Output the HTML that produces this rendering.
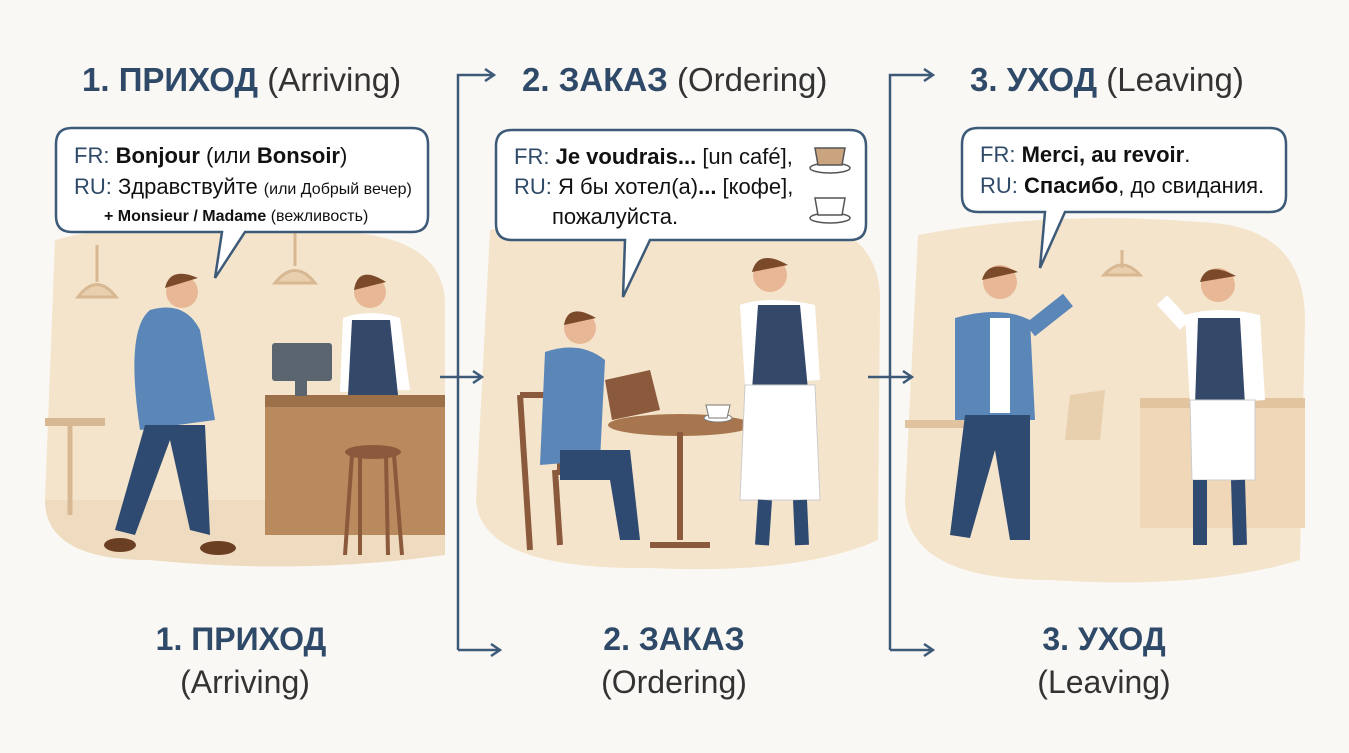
<!DOCTYPE html>
<html><head><meta charset="utf-8"><style>
body{margin:0;background:#faf8f4;width:1349px;height:753px;overflow:hidden}
svg{display:block}
text{font-family:"Liberation Sans","Noto Sans CJK SC",sans-serif}
</style></head><body>
<svg width="1349" height="753" viewBox="0 0 1349 753">
<defs><marker id="a" markerWidth="12" markerHeight="14" refX="10" refY="7" orient="auto" markerUnits="userSpaceOnUse"><path d="M1,1 L10,7 L1,13" fill="none" stroke="#3d5a78" stroke-width="2.5"/></marker></defs>
<rect width="1349" height="753" fill="#faf8f4"/>
<path d="M55,240 Q150,215 300,232 Q440,225 445,300 L445,555 Q300,575 150,560 Q45,560 45,500 Z" fill="#f4e4cb"/>
<path d="M45,500 L445,500 L445,555 Q300,575 150,560 Q45,560 45,500Z" fill="#efdcc0"/>
<path d="M490,230 Q600,205 760,215 Q880,215 880,300 L878,540 Q800,575 650,568 Q480,570 476,500 Z" fill="#f4e4cb"/>
<path d="M918,235 Q1050,210 1200,222 Q1305,225 1305,320 L1300,560 Q1200,590 1050,580 Q905,580 905,500 Z" fill="#f4e4cb"/>
<g stroke="#3d5a78" stroke-width="2.5" fill="none">
<path d="M458,650 L458,75 L494,75" marker-end="url(#a)"/>
<path d="M458,650 L500,650" marker-end="url(#a)"/>
<path d="M440,377 L482,377" marker-end="url(#a)"/>
<path d="M890,650 L890,75 L933,75" marker-end="url(#a)"/>
<path d="M890,650 L933,650" marker-end="url(#a)"/>
<path d="M868,377 L912,377" marker-end="url(#a)"/>
</g>
<g font-size="33" fill="#2f4a68">
<text x="82" y="91"><tspan font-weight="bold">1. ПРИХОД</tspan> <tspan fill="#333">(Arriving)</tspan></text>
<text x="522" y="91"><tspan font-weight="bold">2. ЗАКАЗ</tspan> <tspan fill="#333">(Ordering)</tspan></text>
<text x="970" y="91"><tspan font-weight="bold">3. УХОД</tspan> <tspan fill="#333">(Leaving)</tspan></text>
</g>
<g>
<rect x="265" y="395" width="180" height="140" fill="#b88a5e"/><rect x="265" y="395" width="180" height="12" fill="#9c7048"/>
<rect x="272" y="343" width="60" height="38" rx="3" fill="#5a6570"/><rect x="295" y="381" width="12" height="15" fill="#5a6570"/>
<ellipse cx="373" cy="452" rx="28" ry="7" fill="#8b5a3c"/><path d="M352,455 L345,555 M394,455 L402,555 M360,455 L360,555 M386,455 L388,555" stroke="#8b5a3c" stroke-width="4"/>
<rect x="45" y="418" width="60" height="8" fill="#d8b892"/><path d="M70,426 L70,515" stroke="#d8b892" stroke-width="5"/>
<path d="M97,245 L97,282 M78,297 Q97,272 116,297Z" stroke="#d8b892" stroke-width="3" fill="#e9cfae"/>
<path d="M295,225 L295,266 M275,283 Q295,258 315,283Z" stroke="#d8b892" stroke-width="3" fill="#e9cfae"/>
<ellipse cx="680" cy="425" rx="72" ry="11" fill="#a8764e"/><path d="M680,432 L680,540 M650,545 L710,545" stroke="#8b5a3c" stroke-width="6"/>
<ellipse cx="718" cy="418" rx="14" ry="4" fill="#fff" stroke="#777"/><path d="M706,405 L730,405 L727,418 L709,418Z" fill="#fff" stroke="#777"/>
<path d="M520,395 L560,395 L560,475 M520,395 L530,550 M555,470 L560,545" stroke="#8b5a3c" stroke-width="6" fill="none"/>
<rect x="1140" y="398" width="165" height="130" fill="#efd7b7"/><rect x="1140" y="398" width="165" height="10" fill="#e2c49e"/>
<rect x="905" y="420" width="70" height="8" fill="#e0c4a0"/><path d="M1070,395 L1105,390 L1100,440 L1065,440Z" fill="#e8d0ae"/>
<path d="M1122,250 L1122,268 M1104,275 Q1122,255 1140,275Z" stroke="#d8b892" stroke-width="3" fill="#e9cfae"/>
</g>
<g>
<circle cx="182" cy="292" r="16" fill="#e8b896"/><path d="M165,288 Q170,266 198,278" fill="#7a4a2a"/>
<path d="M150,310 Q185,300 200,330 L215,420 L140,430 Q125,330 150,310Z" fill="#5b86b8"/>
<path d="M145,425 L115,530 L135,535 L170,440 L190,530 L210,535 L205,425Z" fill="#2f4a70"/>
<ellipse cx="120" cy="545" rx="16" ry="7" fill="#6b3f22"/><ellipse cx="218" cy="548" rx="18" ry="7" fill="#6b3f22"/>
<circle cx="370" cy="292" r="16" fill="#e8b896"/><path d="M354,290 Q358,264 386,282" fill="#7a4a2a"/>
<path d="M343,318 Q370,308 400,318 L410,390 L340,392Z" fill="#fff"/><path d="M352,320 L390,320 L398,395 L348,395Z" fill="#34486a"/>
<circle cx="580" cy="328" r="16" fill="#e8b896"/><path d="M564,325 Q568,302 596,318" fill="#7a4a2a"/>
<path d="M545,352 Q580,340 605,360 L600,460 L540,465Z" fill="#5b86b8"/>
<path d="M560,450 L630,450 L640,540 L620,540 L610,480 L560,480Z" fill="#2f4a70"/>
<path d="M605,380 L650,370 L660,410 L612,420Z" fill="#8b5a3c"/>
<circle cx="770" cy="275" r="17" fill="#e8b896"/><path d="M752,272 Q758,248 788,265" fill="#7a4a2a"/>
<path d="M740,305 Q770,295 815,305 L820,380 L745,385Z" fill="#fff"/><path d="M758,305 L800,305 L808,390 L752,390Z" fill="#34486a"/>
<path d="M745,385 L815,385 L820,500 L740,500Z" fill="#fff" stroke="#ccc"/>
<path d="M765,500 L762,545 M800,500 L802,545" stroke="#2f4a70" stroke-width="14"/>
<circle cx="1000" cy="282" r="17" fill="#e8b896"/><path d="M982,280 Q988,258 1018,272" fill="#7a4a2a"/>
<path d="M955,318 Q1000,305 1030,320 L1035,420 L955,420Z" fill="#5b86b8"/><rect x="990" y="318" width="20" height="95" fill="#fff"/>
<path d="M1030,330 L1068,300" stroke="#5b86b8" stroke-width="16"/>
<path d="M965,415 L950,535 L970,538 L995,450 L1010,540 L1030,540 L1030,415Z" fill="#2f4a70"/>
<circle cx="1218" cy="285" r="17" fill="#e8b896"/><path d="M1200,282 Q1206,260 1236,276" fill="#7a4a2a"/>
<path d="M1185,315 Q1218,305 1260,315 L1265,400 L1190,405Z" fill="#fff"/><path d="M1198,318 L1240,318 L1245,405 L1195,405Z" fill="#34486a"/>
<path d="M1190,400 L1255,400 L1255,480 L1192,480Z" fill="#fff" stroke="#ccc"/>
<path d="M1200,480 L1200,545 M1238,480 L1240,545" stroke="#2f4a70" stroke-width="14"/>
<path d="M1185,325 L1162,300" stroke="#fff" stroke-width="14"/>
</g>
<g fill="#fff" stroke="#3d5a78" stroke-width="2.5">
<path d="M72,128 L412,128 Q428,128 428,144 L428,216 Q428,232 412,232 L245,232 L215,278 L222,232 L72,232 Q56,232 56,216 L56,144 Q56,128 72,128Z"/>
<path d="M512,130 L850,130 Q866,130 866,146 L866,224 Q866,240 850,240 L650,240 L623,297 L625,240 L512,240 Q496,240 496,224 L496,146 Q496,130 512,130Z"/>
<path d="M978,128 L1270,128 Q1286,128 1286,144 L1286,196 Q1286,212 1270,212 L1065,212 L1040,268 L1045,212 L978,212 Q962,212 962,196 L962,144 Q962,128 978,128Z"/>
</g>
<g font-size="22" fill="#111">
<text x="74" y="163"><tspan fill="#2f4a68">FR:</tspan> <tspan font-weight="bold">Bonjour</tspan> (или <tspan font-weight="bold">Bonsoir</tspan>)</text>
<text x="74" y="194"><tspan fill="#2f4a68">RU:</tspan> Здравствуйте <tspan font-size="16">(или Добрый вечер)</tspan></text>
<text x="104" y="221" font-size="16"><tspan font-weight="bold">+ Monsieur / Madame</tspan> (вежливость)</text>
<text x="514" y="164"><tspan fill="#2f4a68">FR:</tspan> <tspan font-weight="bold">Je voudrais...</tspan> [un café],</text>
<text x="514" y="194"><tspan fill="#2f4a68">RU:</tspan> Я бы хотел(а)<tspan font-weight="bold">...</tspan> [кофе],</text>
<text x="552" y="224">пожалуйста.</text>
<text x="980" y="162"><tspan fill="#2f4a68">FR:</tspan> <tspan font-weight="bold">Merci, au revoir</tspan>.</text>
<text x="980" y="193"><tspan fill="#2f4a68">RU:</tspan> <tspan font-weight="bold">Спасибо</tspan>, до свидания.</text>
</g>
<g fill="#fff" stroke="#555" stroke-width="1.5">
<ellipse cx="830" cy="168" rx="20" ry="5"/><path d="M815,148 L845,148 L842,165 L818,165Z" fill="#c9a47e"/>
<ellipse cx="830" cy="218" rx="20" ry="5"/><path d="M815,198 L845,198 L842,215 L818,215Z"/>
</g>
<g font-size="32" text-anchor="middle">
<text x="241" y="650" font-weight="bold" fill="#2f4a68">1. ПРИХОД</text><text x="245" y="693" fill="#333">(Arriving)</text>
<text x="674" y="650" font-weight="bold" fill="#2f4a68">2. ЗАКАЗ</text><text x="674" y="693" fill="#333">(Ordering)</text>
<text x="1104" y="650" font-weight="bold" fill="#2f4a68">3. УХОД</text><text x="1104" y="693" fill="#333">(Leaving)</text>
</g>
</svg>
</body></html>
